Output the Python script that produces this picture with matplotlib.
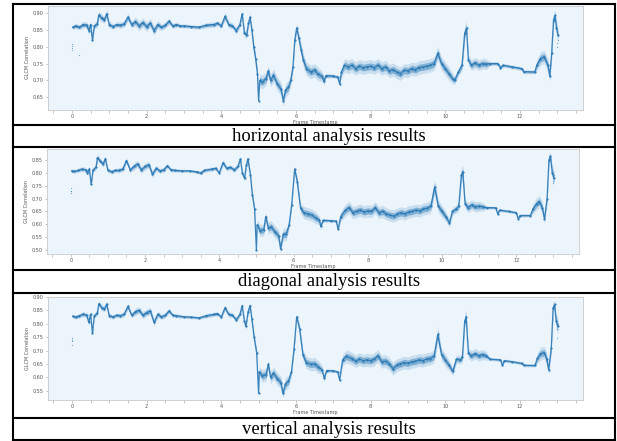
import matplotlib
matplotlib.use("Agg")
import matplotlib.pyplot as plt
from matplotlib.lines import Line2D
from matplotlib.ticker import MultipleLocator

# values: time, centre of the point cloud, half height of the cloud
h_t = [0.02, 0.10, 0.20, 0.30, 0.40, 0.45, 0.50, 0.55, 0.60, 0.68, 0.72, 0.80, 0.87, 0.93, 1.00, 1.10, 1.20, 1.30, 1.40, 1.50,
       1.60, 1.70, 1.80, 1.90, 2.00, 2.10, 2.20, 2.30, 2.40, 2.50, 2.60, 2.70, 2.80, 2.90, 3.00, 3.20, 3.40, 3.60, 3.80, 3.90,
       4.00, 4.10, 4.20, 4.30, 4.40, 4.50, 4.56, 4.62, 4.68, 4.73, 4.77, 4.82, 4.87, 4.92, 4.97, 5.00, 5.03, 5.10, 5.20, 5.26,
       5.32, 5.40, 5.50, 5.60, 5.66, 5.72, 5.80, 5.86, 5.92, 5.97, 6.02, 6.08, 6.14, 6.20, 6.28, 6.40, 6.50, 6.60, 6.70, 6.75,
       6.80, 7.00, 7.12, 7.17, 7.22, 7.30, 7.40, 7.50, 7.60, 7.70, 7.80, 7.90, 8.00, 8.10, 8.20, 8.30, 8.40, 8.50, 8.60, 8.70,
       8.80, 8.90, 9.00, 9.10, 9.20, 9.30, 9.40, 9.50, 9.60, 9.70, 9.80, 9.90, 10.00, 10.10, 10.20, 10.25, 10.35, 10.45, 10.52, 10.57,
       10.62, 10.70, 10.80, 10.90, 11.00, 11.10, 11.20, 11.40, 11.48, 11.55, 11.80, 12.05, 12.10, 12.40, 12.45, 12.55, 12.65, 12.75, 12.80, 12.85,
       12.90, 12.94, 12.98, 13.02]
h_val = [0.858, 0.862, 0.858, 0.866, 0.864, 0.848, 0.866, 0.820, 0.862, 0.868, 0.895, 0.885, 0.880, 0.898, 0.866, 0.860, 0.866, 0.864, 0.868, 0.888,
         0.866, 0.875, 0.862, 0.872, 0.860, 0.870, 0.848, 0.866, 0.858, 0.864, 0.876, 0.862, 0.866, 0.862, 0.862, 0.860, 0.858, 0.864, 0.866, 0.870,
         0.862, 0.890, 0.866, 0.862, 0.848, 0.866, 0.898, 0.840, 0.835, 0.870, 0.888, 0.850, 0.800, 0.765, 0.720, 0.640, 0.700, 0.695, 0.705, 0.728,
         0.700, 0.715, 0.690, 0.675, 0.640, 0.670, 0.680, 0.700, 0.740, 0.820, 0.856, 0.825, 0.790, 0.760, 0.735, 0.725, 0.730, 0.718, 0.712, 0.697,
         0.714, 0.713, 0.710, 0.690, 0.725, 0.745, 0.740, 0.745, 0.735, 0.742, 0.738, 0.740, 0.742, 0.738, 0.745, 0.735, 0.740, 0.728, 0.732, 0.725,
         0.720, 0.730, 0.728, 0.735, 0.732, 0.738, 0.740, 0.742, 0.745, 0.750, 0.780, 0.750, 0.735, 0.720, 0.705, 0.700, 0.725, 0.745, 0.840, 0.855,
         0.760, 0.745, 0.752, 0.745, 0.750, 0.748, 0.750, 0.750, 0.738, 0.745, 0.740, 0.735, 0.726, 0.725, 0.745, 0.765, 0.770, 0.745, 0.712, 0.780,
         0.880, 0.893, 0.855, 0.835]
h_spread = [0.004, 0.004, 0.004, 0.005, 0.005, 0.006, 0.005, 0.006, 0.005, 0.005, 0.006, 0.006, 0.005, 0.006, 0.005, 0.004, 0.004, 0.005, 0.005, 0.006,
            0.005, 0.007, 0.007, 0.007, 0.007, 0.007, 0.007, 0.006, 0.005, 0.005, 0.005, 0.004, 0.004, 0.003, 0.003, 0.003, 0.003, 0.004, 0.004, 0.004,
            0.004, 0.006, 0.005, 0.005, 0.005, 0.005, 0.005, 0.006, 0.006, 0.006, 0.006, 0.007, 0.008, 0.008, 0.008, 0.006, 0.010, 0.010, 0.010, 0.008,
            0.010, 0.010, 0.010, 0.010, 0.008, 0.010, 0.010, 0.008, 0.008, 0.008, 0.006, 0.008, 0.010, 0.010, 0.010, 0.010, 0.010, 0.010, 0.008, 0.006,
            0.004, 0.003, 0.003, 0.004, 0.008, 0.010, 0.010, 0.010, 0.010, 0.010, 0.010, 0.010, 0.010, 0.010, 0.010, 0.010, 0.010, 0.010, 0.010, 0.010,
            0.010, 0.010, 0.010, 0.010, 0.010, 0.010, 0.010, 0.010, 0.010, 0.010, 0.010, 0.010, 0.010, 0.010, 0.008, 0.006, 0.006, 0.008, 0.012, 0.010,
            0.008, 0.008, 0.008, 0.008, 0.008, 0.008, 0.003, 0.003, 0.004, 0.003, 0.003, 0.003, 0.003, 0.003, 0.008, 0.010, 0.010, 0.010, 0.008, 0.010,
            0.010, 0.008, 0.012, 0.012]
h_out_t = [0.0, 0.0, 0.0, 0.01, 0.2, 12.99, 13.0, 13.02]
h_out_v = [0.795, 0.801, 0.807, 0.790, 0.776, 0.810, 0.798, 0.820]

d_t = [0.02, 0.10, 0.20, 0.30, 0.40, 0.45, 0.50, 0.55, 0.60, 0.68, 0.72, 0.80, 0.87, 0.93, 1.00, 1.10, 1.20, 1.30, 1.40, 1.50,
       1.60, 1.70, 1.80, 1.90, 2.00, 2.10, 2.20, 2.30, 2.40, 2.50, 2.60, 2.70, 2.80, 3.00, 3.20, 3.40, 3.50, 3.60, 3.80, 3.90,
       4.00, 4.10, 4.20, 4.30, 4.40, 4.50, 4.57, 4.62, 4.68, 4.73, 4.77, 4.84, 4.89, 4.95, 5.00, 5.02, 5.10, 5.20, 5.25, 5.32,
       5.40, 5.50, 5.60, 5.65, 5.72, 5.80, 5.88, 5.95, 6.03, 6.10, 6.19, 6.28, 6.40, 6.50, 6.60, 6.70, 6.73, 6.80, 7.00, 7.15,
       7.20, 7.27, 7.40, 7.50, 7.60, 7.70, 7.80, 7.90, 8.00, 8.10, 8.20, 8.30, 8.40, 8.50, 8.60, 8.70, 8.80, 8.90, 9.00, 9.10,
       9.20, 9.30, 9.40, 9.50, 9.60, 9.70, 9.80, 9.90, 10.00, 10.10, 10.20, 10.28, 10.38, 10.45, 10.52, 10.56, 10.62, 10.70, 10.80, 10.90,
       11.00, 11.10, 11.20, 11.45, 11.50, 11.55, 11.80, 12.00, 12.05, 12.10, 12.38, 12.45, 12.55, 12.62, 12.70, 12.76, 12.83, 12.88, 12.92, 12.97,
       13.02]
d_val = [0.808, 0.806, 0.810, 0.815, 0.812, 0.800, 0.815, 0.755, 0.812, 0.822, 0.860, 0.845, 0.835, 0.855, 0.810, 0.805, 0.810, 0.810, 0.815, 0.848,
         0.812, 0.825, 0.835, 0.812, 0.825, 0.832, 0.795, 0.818, 0.808, 0.812, 0.828, 0.812, 0.810, 0.808, 0.808, 0.804, 0.800, 0.810, 0.815, 0.818,
         0.800, 0.840, 0.818, 0.822, 0.812, 0.825, 0.855, 0.800, 0.779, 0.830, 0.855, 0.792, 0.715, 0.660, 0.500, 0.598, 0.575, 0.578, 0.630, 0.585,
         0.590, 0.570, 0.555, 0.505, 0.560, 0.560, 0.597, 0.675, 0.815, 0.766, 0.662, 0.645, 0.640, 0.635, 0.625, 0.615, 0.592, 0.615, 0.614, 0.612,
         0.580, 0.630, 0.655, 0.665, 0.645, 0.650, 0.655, 0.648, 0.652, 0.650, 0.665, 0.645, 0.650, 0.640, 0.635, 0.632, 0.640, 0.645, 0.640, 0.648,
         0.650, 0.655, 0.652, 0.660, 0.662, 0.670, 0.745, 0.670, 0.650, 0.630, 0.605, 0.650, 0.660, 0.670, 0.790, 0.805, 0.680, 0.665, 0.675, 0.668,
         0.670, 0.668, 0.665, 0.664, 0.640, 0.655, 0.650, 0.645, 0.622, 0.634, 0.634, 0.660, 0.680, 0.688, 0.665, 0.620, 0.700, 0.850, 0.865, 0.800,
         0.780]
d_spread = [0.004, 0.004, 0.004, 0.005, 0.005, 0.006, 0.005, 0.006, 0.005, 0.005, 0.007, 0.006, 0.006, 0.006, 0.005, 0.004, 0.004, 0.005, 0.005, 0.006,
            0.005, 0.007, 0.007, 0.007, 0.007, 0.007, 0.007, 0.006, 0.005, 0.005, 0.005, 0.004, 0.004, 0.003, 0.003, 0.003, 0.004, 0.004, 0.004, 0.004,
            0.004, 0.006, 0.005, 0.005, 0.005, 0.005, 0.005, 0.006, 0.006, 0.006, 0.006, 0.007, 0.008, 0.008, 0.006, 0.010, 0.012, 0.012, 0.008, 0.012,
            0.012, 0.012, 0.012, 0.008, 0.012, 0.012, 0.008, 0.008, 0.006, 0.010, 0.010, 0.012, 0.012, 0.012, 0.012, 0.008, 0.006, 0.004, 0.003, 0.003,
            0.004, 0.010, 0.012, 0.012, 0.012, 0.012, 0.012, 0.012, 0.012, 0.012, 0.012, 0.012, 0.012, 0.012, 0.012, 0.012, 0.012, 0.012, 0.012, 0.012,
            0.012, 0.012, 0.012, 0.012, 0.012, 0.012, 0.015, 0.012, 0.012, 0.010, 0.008, 0.008, 0.008, 0.010, 0.015, 0.012, 0.010, 0.010, 0.010, 0.010,
            0.010, 0.008, 0.003, 0.003, 0.004, 0.003, 0.003, 0.003, 0.004, 0.003, 0.003, 0.010, 0.012, 0.012, 0.012, 0.008, 0.012, 0.012, 0.008, 0.015,
            0.015]
d_out_t = [0.0, 0.0, 0.0, 0.01, 12.99, 13.0, 13.02]
d_out_v = [0.722, 0.731, 0.740, 0.728, 0.770, 0.760, 0.790]

v_t = [0.02, 0.10, 0.20, 0.30, 0.40, 0.45, 0.50, 0.55, 0.60, 0.68, 0.72, 0.80, 0.87, 0.93, 1.00, 1.10, 1.20, 1.30, 1.40, 1.50,
       1.60, 1.70, 1.80, 1.90, 2.00, 2.10, 2.20, 2.30, 2.40, 2.50, 2.60, 2.70, 2.80, 3.00, 3.20, 3.40, 3.60, 3.80, 3.90, 4.00,
       4.10, 4.20, 4.30, 4.40, 4.50, 4.56, 4.62, 4.66, 4.72, 4.77, 4.82, 4.88, 4.95, 5.00, 5.02, 5.10, 5.20, 5.26, 5.32, 5.40,
       5.50, 5.60, 5.65, 5.72, 5.80, 5.88, 5.95, 6.02, 6.10, 6.19, 6.28, 6.40, 6.50, 6.60, 6.70, 6.76, 6.82, 7.00, 7.12, 7.17,
       7.25, 7.35, 7.50, 7.60, 7.70, 7.80, 7.90, 8.00, 8.10, 8.20, 8.30, 8.40, 8.50, 8.60, 8.70, 8.80, 8.90, 9.00, 9.10, 9.20,
       9.30, 9.40, 9.50, 9.60, 9.70, 9.80, 9.90, 10.00, 10.10, 10.20, 10.30, 10.40, 10.46, 10.52, 10.56, 10.62, 10.70, 10.80, 10.90, 11.00,
       11.10, 11.20, 11.48, 11.53, 11.58, 11.80, 12.05, 12.10, 12.40, 12.47, 12.55, 12.65, 12.72, 12.77, 12.84, 12.89, 12.93, 12.97, 13.02]
v_val = [0.828, 0.825, 0.830, 0.836, 0.832, 0.805, 0.836, 0.765, 0.830, 0.840, 0.875, 0.860, 0.855, 0.873, 0.830, 0.826, 0.832, 0.830, 0.836, 0.865,
         0.832, 0.845, 0.850, 0.832, 0.842, 0.848, 0.805, 0.835, 0.826, 0.832, 0.848, 0.832, 0.830, 0.826, 0.825, 0.822, 0.830, 0.835, 0.838, 0.825,
         0.860, 0.835, 0.832, 0.815, 0.835, 0.868, 0.810, 0.790, 0.845, 0.868, 0.818, 0.750, 0.690, 0.540, 0.620, 0.605, 0.610, 0.648, 0.600, 0.615,
         0.595, 0.580, 0.540, 0.575, 0.585, 0.620, 0.706, 0.826, 0.780, 0.682, 0.655, 0.648, 0.650, 0.638, 0.628, 0.596, 0.625, 0.624, 0.620, 0.590,
         0.665, 0.678, 0.670, 0.660, 0.668, 0.662, 0.665, 0.662, 0.668, 0.680, 0.658, 0.660, 0.650, 0.632, 0.645, 0.650, 0.655, 0.652, 0.658, 0.660,
         0.665, 0.662, 0.668, 0.670, 0.678, 0.760, 0.685, 0.665, 0.645, 0.622, 0.668, 0.665, 0.675, 0.810, 0.825, 0.690, 0.680, 0.688, 0.680, 0.685,
         0.680, 0.668, 0.665, 0.645, 0.662, 0.658, 0.652, 0.645, 0.644, 0.672, 0.688, 0.692, 0.668, 0.628, 0.710, 0.860, 0.872, 0.810, 0.790]
v_spread = [0.004, 0.004, 0.004, 0.005, 0.005, 0.006, 0.005, 0.006, 0.005, 0.005, 0.006, 0.006, 0.005, 0.006, 0.005, 0.004, 0.004, 0.005, 0.005, 0.006,
            0.005, 0.007, 0.007, 0.007, 0.007, 0.007, 0.007, 0.006, 0.005, 0.005, 0.005, 0.004, 0.004, 0.003, 0.003, 0.003, 0.004, 0.004, 0.004, 0.004,
            0.006, 0.005, 0.005, 0.005, 0.005, 0.005, 0.006, 0.006, 0.006, 0.006, 0.007, 0.008, 0.008, 0.006, 0.010, 0.012, 0.012, 0.008, 0.012, 0.012,
            0.012, 0.012, 0.008, 0.012, 0.012, 0.008, 0.008, 0.006, 0.010, 0.010, 0.012, 0.012, 0.012, 0.012, 0.008, 0.006, 0.004, 0.003, 0.003, 0.004,
            0.010, 0.012, 0.012, 0.012, 0.012, 0.012, 0.012, 0.012, 0.012, 0.012, 0.012, 0.012, 0.012, 0.012, 0.012, 0.012, 0.012, 0.012, 0.012, 0.012,
            0.012, 0.012, 0.012, 0.012, 0.012, 0.015, 0.012, 0.012, 0.010, 0.008, 0.008, 0.008, 0.010, 0.015, 0.012, 0.010, 0.010, 0.010, 0.010, 0.010,
            0.008, 0.003, 0.003, 0.004, 0.003, 0.003, 0.003, 0.003, 0.003, 0.010, 0.012, 0.012, 0.012, 0.008, 0.012, 0.012, 0.008, 0.015, 0.015]
v_out_t = [0.0, 0.0, 0.0, 0.01, 12.99, 13.0, 13.02]
v_out_v = [0.722, 0.735, 0.748, 0.740, 0.780, 0.745, 0.800]

captions = ["horizontal analysis results", "diagonal analysis results", "vertical analysis results"]
y_ticks = [[0.65, 0.70, 0.75, 0.80, 0.85, 0.90],
           [0.50, 0.55, 0.60, 0.65, 0.70, 0.75, 0.80, 0.85],
           [0.55, 0.60, 0.65, 0.70, 0.75, 0.80, 0.85, 0.90]]
y_limits = [(0.612, 0.922), (0.484, 0.892), (0.515, 0.900)]

W, H = 617, 441
fig = plt.figure(figsize=(W / 100, H / 100), dpi=100)


def box(l, t, r, b):
    return fig.add_axes([l / W, 1 - b / H, (r - l) / W, (b - t) / H])


def hline(y, x0=13, x1=614.5):
    fig.add_artist(Line2D([x0 / W, x1 / W], [1 - y / H, 1 - y / H], color="black", lw=1.5,
                          transform=fig.transFigure, solid_capstyle="projecting"))


def vline(x, y0=4, y1=439.5):
    fig.add_artist(Line2D([x / W, x / W], [1 - y0 / H, 1 - y1 / H], color="black", lw=1.5,
                          transform=fig.transFigure, solid_capstyle="projecting"))


panels = [
    (h_t, h_val, h_spread, h_out_t, h_out_v, (48, 5.7, 583, 110)),
    (d_t, d_val, d_spread, d_out_t, d_out_v, (47, 149.3, 579, 254)),
    (v_t, v_val, v_spread, v_out_t, v_out_v, (48, 297, 583, 400)),
]
blue = "#2878b5"

for i, (t, val, spread, ot, ov, rect) in enumerate(panels):
    ax = box(*rect)
    ax.set_facecolor("#edf5fc")
    # faint outer cloud, denser core, then the running centre
    lo2 = [v - 2 * s for v, s in zip(val, spread)]
    hi2 = [v + 2 * s for v, s in zip(val, spread)]
    lo = [v - s for v, s in zip(val, spread)]
    hi = [v + s for v, s in zip(val, spread)]
    ax.fill_between(t, lo2, hi2, color=blue, alpha=0.18, lw=0)
    ax.fill_between(t, lo, hi, color=blue, alpha=0.45, lw=0)
    ax.plot(t, val, color=blue, lw=0.9, marker=".", ms=1.2, alpha=0.9)
    ax.scatter(ot, ov, s=0.8, color=blue, alpha=0.6, lw=0)
    ax.set_xlim(-0.64, 13.69)
    ax.set_ylim(*y_limits[i])
    ax.set_xticks([0, 2, 4, 6, 8, 10, 12])
    ax.xaxis.set_minor_locator(MultipleLocator(0.5))
    ax.set_yticks(y_ticks[i])
    ax.set_yticklabels([f"{v:.2f}" for v in y_ticks[i]])
    ax.tick_params(which="both", labelsize=3.5, labelcolor="#555555", color="#999999",
                   length=1.8, width=0.4, pad=1.2)
    for sp in ax.spines.values():
        sp.set_color("#c9c9c9")
        sp.set_linewidth(0.6)
    ax.set_xlabel("Frame Timestamp", fontsize=3.5, color="#555555", labelpad=0.5)
    ax.set_ylabel("GLCM Correlation", fontsize=3.5, color="#555555", labelpad=2)

# table frame around the three panels and their captions
for y in [4, 124.8, 147, 269.5, 292.5, 417.5, 439.5]:
    hline(y)
vline(13)
vline(614.5)

cap_y = [136.3, 281.2, 429]
for c, y in zip(captions, cap_y):
    fig.text(328.5 / W, 1 - y / H, c, ha="center", va="center", fontsize=13.4,
             family="Liberation Serif", color="black")

fig.savefig("out.png", dpi=100)
